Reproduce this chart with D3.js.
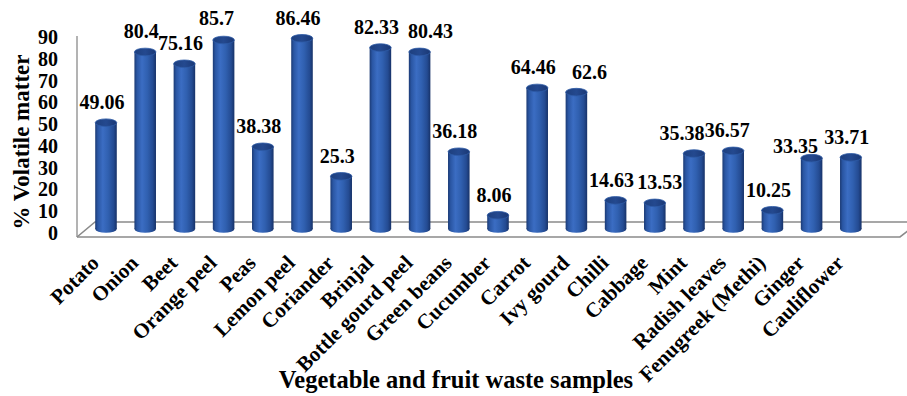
<!DOCTYPE html>
<html>
<head>
<meta charset="utf-8">
<script src="https://cdn.jsdelivr.net/npm/d3@7"></script>
<style>
  html, body { margin: 0; padding: 0; background: #fff; }
  svg { display: block; }
  text { font-family: "Liberation Serif", "Times New Roman", serif; font-weight: bold; fill: #000; }
</style>
</head>
<body>
<svg id="chart" width="907" height="396"></svg>
<script>
// Volatile matter content of vegetable and fruit waste samples
const categories = [
  "Potato", "Onion", "Beet", "Orange peel", "Peas", "Lemon peel", "Coriander",
  "Brinjal", "Bottle gourd peel", "Green beans", "Cucumber", "Carrot", "Ivy gourd",
  "Chilli", "Cabbage", "Mint", "Radish leaves", "Fenugreek (Methi)", "Ginger", "Cauliflower"
];
const volatileMatter = [
  49.06, 80.4, 75.16, 85.7, 38.38, 86.46, 25.3,
  82.33, 80.43, 36.18, 8.06, 64.46, 62.6,
  14.63, 13.53, 35.38, 36.57, 10.25, 33.35, 33.71
];
const yTicks = [0, 10, 20, 30, 40, 50, 60, 70, 80, 90];

// Label placement tweaks so neighbouring value labels don't collide
const labelShift = {
  "Orange peel": [-3, -1.5],
  "Bottle gourd peel": [15, 0],
  "Ivy gourd": [17, 0],
  "Cabbage": [9, 0],
  "Mint": [-8, 0],
  "Radish leaves": [-2, 0],
  "Ginger": [-12, 8.5]
};

const svg = d3.select("#chart");

// Scales: x places the cylinders, yBar is the depth plane the bars sit in,
// yAxis is the front plane that carries the tick labels.
const x = d3.scaleBand().domain(categories).range([86.4, 870.4]).paddingInner(0.45).paddingOuter(0.225);
const yBar = d3.scaleLinear().domain([0, 90]).range([233.4, 30.3]);
const yAxis = d3.scaleLinear().domain([0, 90]).range([233, 37]);

const floorBack = 222, floorFront = 237;
const depthDx = 18;

// Cylinder shading
const defs = svg.append("defs");
const grad = defs.append("linearGradient").attr("id", "cyl").attr("x1", 0).attr("x2", 1).attr("y1", 0).attr("y2", 0);
[[0, "#1b3a74"], [0.12, "#2a56a3"], [0.35, "#3b6dc3"], [0.6, "#3060b0"], [0.85, "#244b92"], [1, "#173268"]]
  .forEach(([o, c]) => grad.append("stop").attr("offset", o).attr("stop-color", c));
const capGrad = defs.append("linearGradient").attr("id", "cap").attr("x1", 0).attr("x2", 1).attr("y1", 0).attr("y2", 0);
[[0, "#1d3f7e"], [0.5, "#24498f"], [1, "#1a3875"]]
  .forEach(([o, c]) => capGrad.append("stop").attr("offset", o).attr("stop-color", c));

// Back wall edge and floor
const axisColor = "#8a8a8a";
svg.append("line")
  .attr("x1", 77).attr("x2", 77).attr("y1", yAxis(90) - 1).attr("y2", floorFront)
  .attr("stroke", axisColor).attr("stroke-width", 1.3);
svg.append("path")
  .attr("d", `M77,${floorFront} L${77 + depthDx},${floorBack} L907,${floorBack}`)
  .attr("fill", "none").attr("stroke", axisColor).attr("stroke-width", 1.6);
svg.append("path")
  .attr("d", `M77,${floorFront} L900,${floorFront} L${900 + depthDx * 0.5},${floorFront - 7}`)
  .attr("fill", "none").attr("stroke", axisColor).attr("stroke-width", 1.6);

// Tick labels
svg.append("g").selectAll("text").data(yTicks).join("text")
  .attr("x", 58).attr("y", d => yAxis(d)).attr("dy", "0.35em")
  .attr("text-anchor", "end").attr("font-size", 20)
  .text(d => d);

// Cylinders
const bw = x.bandwidth();
const ry = 3.8;
const bottomY = 229;
const bars = svg.append("g").selectAll("g").data(categories).join("g");
bars.each(function (c, i) {
  const g = d3.select(this);
  const cx = x(c) + bw / 2;
  const top = yBar(volatileMatter[i]);
  g.append("ellipse").attr("cx", cx).attr("cy", bottomY).attr("rx", bw / 2).attr("ry", ry).attr("fill", "url(#cyl)");
  g.append("rect").attr("x", cx - bw / 2).attr("y", top).attr("width", bw).attr("height", bottomY - top).attr("fill", "url(#cyl)");
  g.append("ellipse").attr("cx", cx).attr("cy", top).attr("rx", bw / 2).attr("ry", ry)
    .attr("fill", "url(#cap)").attr("stroke", "#2d5aa6").attr("stroke-width", 0.8);
});

// Value labels
const shift = c => labelShift[c] || [0, 0];
svg.append("g").selectAll("text").data(categories).join("text")
  .attr("x", c => x(c) + bw / 2 - 4 + shift(c)[0])
  .attr("y", (c, i) => yBar(volatileMatter[i]) - 13.5 + shift(c)[1])
  .attr("text-anchor", "middle").attr("font-size", 20)
  .text((c, i) => volatileMatter[i]);

// Category labels
svg.append("g").selectAll("text").data(categories).join("text")
  .attr("transform", c => `translate(${x(c) + bw / 2 - 11},${259}) rotate(-45)`)
  .attr("text-anchor", "end").attr("dy", "0.35em").attr("font-size", 21)
  .text(c => c);

// Axis titles
svg.append("text")
  .attr("transform", `translate(21,142) rotate(-90)`)
  .attr("text-anchor", "middle").attr("dy", "0.35em").attr("font-size", 23)
  .text("% Volatile matter");
svg.append("text")
  .attr("x", 456).attr("y", 388)
  .attr("text-anchor", "middle").attr("font-size", 24.5)
  .text("Vegetable and fruit waste samples");
</script>
</body>
</html>
